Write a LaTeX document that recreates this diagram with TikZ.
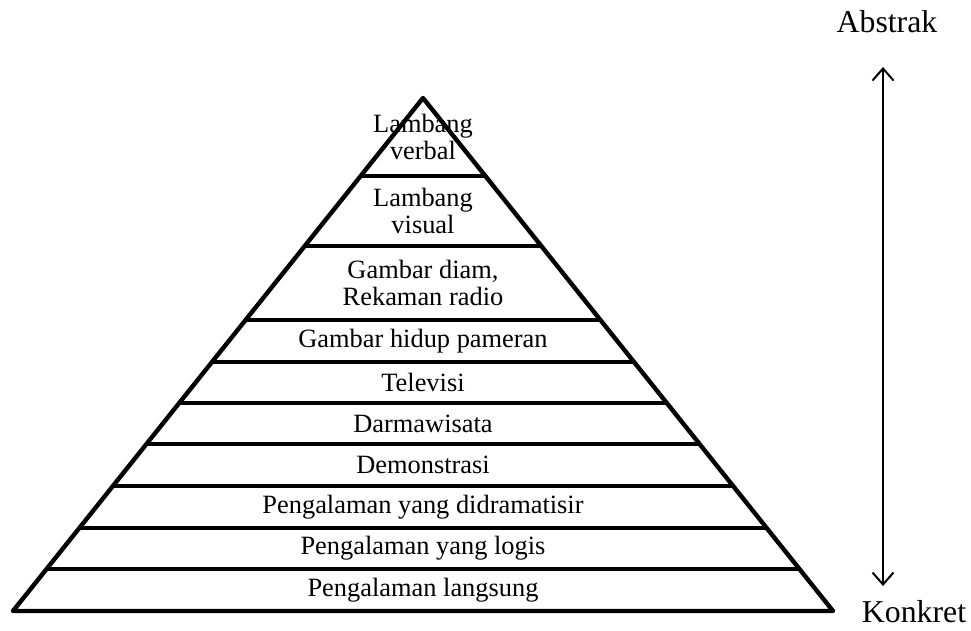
\documentclass[tikz,border=0pt]{standalone}
\usepackage{fontspec}
\setmainfont{Liberation Serif}
\usetikzlibrary{calc,arrows.meta}
\begin{document}
\begin{tikzpicture}[x=1pt,y=-1pt,
  edge/.style={line width=4.4pt,line join=round,line cap=round},
  band/.style={line width=4.4pt},
  lbl/.style={font=\fontsize{26.4}{27}\selectfont,align=center,inner sep=0pt},
  side/.style={font=\fontsize{31.8}{33}\selectfont,inner sep=0pt},
  axis/.style={line width=2pt,{Straight Barb[length=12pt,width=21pt]}-{Straight Barb[length=12pt,width=21pt]}}]
\useasboundingbox (0,0) rectangle (971,630);
\coordinate (A) at (423,98);
\coordinate (L) at (13,611);
\coordinate (R) at (833,611);
\draw[edge] (A) -- (L) -- (R) -- cycle;
\foreach \t in {0.152,0.2885,0.4327,0.5146,0.5945,0.6745,0.7563,0.8382,0.9181}{
  \draw[band] ($(A)!\t!(L)$) -- ($(A)!\t!(R)$);
}
\node[lbl] (n1) at (423,137) {Lambang\\verbal};
\node[lbl] (n2) at (423,211) {Lambang\\visual};
\node[lbl] (n3) at (423,283) {Gambar diam,\\Rekaman radio};
\node[lbl] (n4) at (423,341) {Gambar hidup pameran};
\node[lbl] (n5) at (423,382.5) {Televisi};
\node[lbl] (n6) at (423,423.5) {Darmawisata};
\node[lbl] (n7) at (423,465) {Demonstrasi};
\node[lbl] (n8) at (423,507) {Pengalaman yang didramatisir};
\node[lbl] (n9) at (423,548.5) {Pengalaman yang logis};
\node[lbl] (n10) at (423,590) {Pengalaman langsung};
\node[side,anchor=base] (abs) at (887,32) {Abstrak};
\node[side,anchor=base] (kon) at (914,622) {Konkret};
\coordinate (top) at (883,67);
\coordinate (bot) at (883,586);
\draw[axis] (bot) -- (top);
\end{tikzpicture}
\end{document}
